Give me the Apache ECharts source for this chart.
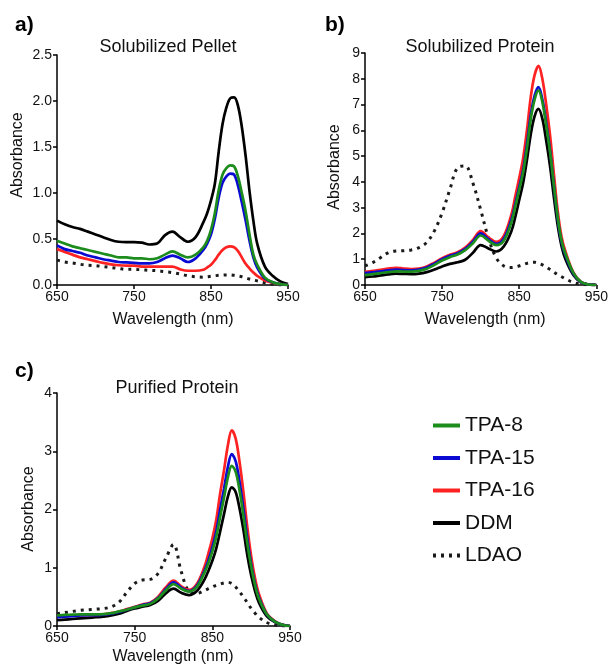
<!DOCTYPE html>
<html>
<head>
<meta charset="utf-8">
<script src="https://cdn.jsdelivr.net/npm/echarts@6/dist/echarts.min.js"></script>
<style>
html,body{margin:0;padding:0;background:#fff;}
#chart{width:611px;height:666px;}
</style>
</head>
<body>
<div id="chart"></div>
<script>
// ---- DATA ----
const wavelengths = [650,660,670,680,690,700,710,720,730,740,750,760,770,780,790,800,810,820,830,840,845,850,855,860,865,870,875,880,885,890,895,900,905,910,920,930,940,950];
const seriesNames = ['TPA-8','TPA-15','TPA-16','DDM','LDAO'];

// a) Solubilized Pellet
const pelletTPA8  = [0.48,0.45,0.42,0.40,0.38,0.36,0.34,0.32,0.30,0.30,0.29,0.29,0.28,0.29,0.33,0.365,0.33,0.30,0.33,0.41,0.48,0.60,0.78,1.03,1.20,1.27,1.30,1.29,1.18,1.00,0.80,0.55,0.33,0.22,0.08,0.03,0.01,0];
const pelletTPA15 = [0.43,0.39,0.37,0.35,0.32,0.30,0.28,0.265,0.25,0.245,0.24,0.235,0.235,0.25,0.29,0.32,0.29,0.25,0.29,0.38,0.45,0.55,0.72,0.95,1.11,1.18,1.21,1.20,1.08,0.90,0.70,0.48,0.30,0.19,0.07,0.03,0.01,0];
const pelletTPA16 = [0.39,0.36,0.33,0.30,0.28,0.26,0.24,0.225,0.215,0.21,0.21,0.20,0.20,0.20,0.20,0.20,0.17,0.155,0.155,0.165,0.19,0.22,0.27,0.33,0.38,0.41,0.42,0.41,0.37,0.30,0.23,0.18,0.135,0.10,0.05,0.025,0.01,0];
const pelletDDM   = [0.70,0.66,0.63,0.61,0.58,0.55,0.52,0.49,0.47,0.465,0.465,0.46,0.44,0.45,0.54,0.58,0.52,0.47,0.52,0.68,0.78,0.92,1.10,1.45,1.75,1.93,2.03,2.04,1.95,1.72,1.40,1.02,0.70,0.45,0.20,0.10,0.04,0.01];
const pelletLDAO  = [0.27,0.25,0.24,0.225,0.215,0.21,0.20,0.19,0.18,0.17,0.17,0.165,0.16,0.155,0.145,0.135,0.12,0.10,0.09,0.085,0.088,0.095,0.10,0.105,0.108,0.11,0.11,0.105,0.098,0.09,0.078,0.065,0.055,0.045,0.025,0.01,0,0];

// b) Solubilized Protein
const solTPA8  = [0.38,0.42,0.46,0.50,0.53,0.52,0.52,0.55,0.63,0.78,0.95,1.08,1.18,1.35,1.62,1.92,1.72,1.55,1.72,2.45,3.05,3.70,4.35,5.30,6.45,7.20,7.55,7.10,6.20,5.15,3.85,2.60,1.70,1.20,0.48,0.12,0.02,0];
const solTPA15 = [0.46,0.49,0.53,0.57,0.60,0.58,0.57,0.60,0.68,0.83,1.00,1.13,1.23,1.40,1.68,2.00,1.78,1.60,1.80,2.55,3.15,3.80,4.45,5.45,6.60,7.35,7.68,7.20,6.30,5.20,3.85,2.55,1.65,1.15,0.45,0.11,0.02,0];
const solTPA16 = [0.51,0.55,0.59,0.64,0.67,0.64,0.62,0.64,0.72,0.87,1.04,1.17,1.27,1.45,1.75,2.09,1.85,1.67,1.90,2.75,3.45,4.15,4.90,6.00,7.30,8.15,8.50,8.00,7.00,5.80,4.30,2.85,1.85,1.30,0.50,0.12,0.02,0];
const solDDM   = [0.30,0.33,0.37,0.41,0.44,0.43,0.42,0.44,0.50,0.60,0.72,0.82,0.88,0.98,1.25,1.55,1.42,1.30,1.50,2.10,2.65,3.30,3.95,4.85,5.85,6.55,6.83,6.45,5.60,4.60,3.40,2.30,1.50,1.00,0.40,0.10,0.02,0];
const solLDAO  = [0.74,0.87,1.06,1.25,1.32,1.33,1.36,1.45,1.65,2.10,2.80,3.70,4.55,4.62,3.95,2.92,1.83,1.06,0.74,0.68,0.70,0.74,0.79,0.84,0.87,0.88,0.84,0.78,0.70,0.60,0.50,0.40,0.32,0.24,0.10,0.03,0.01,0];

// c) Purified Protein
const purTPA8  = [0.18,0.19,0.195,0.20,0.20,0.20,0.205,0.22,0.25,0.28,0.32,0.35,0.38,0.47,0.61,0.72,0.64,0.59,0.67,0.92,1.08,1.28,1.53,1.87,2.20,2.55,2.75,2.65,2.33,1.90,1.42,1.02,0.70,0.47,0.20,0.08,0.02,0];
const purTPA15 = [0.15,0.16,0.17,0.18,0.185,0.185,0.195,0.21,0.24,0.28,0.32,0.36,0.39,0.48,0.63,0.75,0.66,0.60,0.69,0.95,1.13,1.35,1.62,2.00,2.35,2.73,2.95,2.83,2.48,2.02,1.50,1.06,0.72,0.49,0.20,0.08,0.02,0];
const purTPA16 = [0.16,0.17,0.18,0.185,0.19,0.19,0.20,0.22,0.25,0.29,0.33,0.37,0.40,0.50,0.66,0.78,0.68,0.62,0.72,1.02,1.25,1.50,1.82,2.27,2.67,3.10,3.36,3.22,2.82,2.30,1.70,1.20,0.82,0.55,0.22,0.09,0.02,0];
const purDDM   = [0.10,0.11,0.12,0.13,0.14,0.15,0.16,0.18,0.21,0.26,0.30,0.33,0.36,0.43,0.56,0.64,0.57,0.53,0.60,0.80,0.95,1.12,1.33,1.62,1.92,2.22,2.38,2.30,2.02,1.65,1.22,0.87,0.60,0.40,0.17,0.07,0.02,0];
const purLDAO  = [0.21,0.23,0.25,0.27,0.28,0.29,0.30,0.33,0.41,0.58,0.73,0.79,0.80,0.90,1.16,1.40,0.93,0.59,0.56,0.61,0.64,0.67,0.70,0.72,0.74,0.75,0.73,0.67,0.59,0.50,0.40,0.30,0.22,0.15,0.06,0.02,0,0];

const xTicks = [650, 750, 850, 950];
const panelTitles = ['Solubilized Pellet', 'Solubilized Protein', 'Purified Protein'];
const panelLetters = ['a)', 'b)', 'c)'];
const yMax = [2.5, 9, 4];
const yStep = [0.5, 1, 1];

// ---- CHART ----
const FONT = "'Liberation Sans', Arial, Helvetica, sans-serif";
const colors = {'TPA-8':'#1c8c1c','TPA-15':'#0a0ad2','TPA-16':'#ff2222','DDM':'#000000','LDAO':'#1a1a1a'};
const panels = [
  {TPA8: pelletTPA8, TPA15: pelletTPA15, TPA16: pelletTPA16, DDM: pelletDDM, LDAO: pelletLDAO},
  {TPA8: solTPA8, TPA15: solTPA15, TPA16: solTPA16, DDM: solDDM, LDAO: solLDAO},
  {TPA8: purTPA8, TPA15: purTPA15, TPA16: purTPA16, DDM: purDDM, LDAO: purLDAO}
];
const grids = [
  {left: 57, top: 55, width: 231, height: 230},
  {left: 365, top: 53, width: 232, height: 232},
  {left: 57, top: 393, width: 233, height: 233}
];

function pairs(arr){ return wavelengths.map((w,i)=>[w, arr[i]]); }

const xAxes = [], yAxes = [], series = [];
grids.forEach((g,i)=>{
  xAxes.push({
    type:'value', gridIndex:i, min:xTicks[0], max:xTicks[xTicks.length-1], interval:100,
    axisLine:{show:true, onZero:false, lineStyle:{color:'#000', width:1.5}},
    axisTick:{show:true, length:4, lineStyle:{color:'#000', width:1.5}},
    axisLabel:{color:'#111', fontSize:14, fontFamily:FONT, margin:5},
    splitLine:{show:false}
  });
  yAxes.push({
    type:'value', gridIndex:i, min:0, max:yMax[i], interval:yStep[i],
    axisLine:{show:true, onZero:false, lineStyle:{color:'#000', width:1.5}},
    axisTick:{show:true, length:4, lineStyle:{color:'#000', width:1.5}},
    axisLabel:{color:'#111', fontSize:14, fontFamily:FONT, margin:5,
      formatter: v => i===0 ? v.toFixed(1) : String(v)},
    splitLine:{show:false}
  });
  const p = panels[i];
  const order = [['LDAO',p.LDAO],['DDM',p.DDM],['TPA-16',p.TPA16],['TPA-15',p.TPA15],['TPA-8',p.TPA8]];
  order.forEach(([name,arr])=>{
    const dotted = name==='LDAO';
    series.push({
      type:'line', name, xAxisIndex:i, yAxisIndex:i, data:pairs(arr),
      smooth:0.35, symbol:'none', silent:true,
      lineStyle: dotted ? {color:colors[name], width:3, type:[3,5], cap:'butt'}
                        : {color:colors[name], width:2.7},
      itemStyle:{color:colors[name]},
      z: dotted ? 1 : 2
    });
  });
});

const graphic = [];
const titlePos = [[168,47],[480,47],[177,388]];
const letterPos = [[15,25],[325,25],[15,371]];
const xNamePos = [[173,320],[485,320],[173,657]];
const yNamePos = [[18,155],[335,167],[29,509]];
for (let i=0;i<3;i++){
  graphic.push({type:'text', x:titlePos[i][0], y:titlePos[i][1],
    style:{text:panelTitles[i], font:`18px ${FONT}`, fill:'#111', align:'center', verticalAlign:'middle'}});
  graphic.push({type:'text', x:letterPos[i][0], y:letterPos[i][1],
    style:{text:panelLetters[i], font:`bold 21px ${FONT}`, fill:'#000', align:'left', verticalAlign:'middle'}});
  graphic.push({type:'text', x:xNamePos[i][0], y:xNamePos[i][1],
    style:{text:'Wavelength (nm)', font:`16px ${FONT}`, fill:'#111', align:'center', verticalAlign:'middle'}});
  graphic.push({type:'text', x:yNamePos[i][0], y:yNamePos[i][1], rotation:Math.PI/2,
    style:{text:'Absorbance', font:`16px ${FONT}`, fill:'#111', align:'center', verticalAlign:'middle'}});
}

const solidIcon = 'rect';
const dotIcon = 'path://M0,0h3v4h-3zM8,0h3v4h-3zM16,0h3v4h-3zM24,0h3v4h-3z';

const chart = echarts.init(document.getElementById('chart'), null, {renderer:'canvas'});
chart.setOption({
  animation:false,
  backgroundColor:'#fff',
  grid: grids,
  xAxis: xAxes,
  yAxis: yAxes,
  series,
  graphic,
  legend:{
    data: seriesNames.map(n => ({name:n, icon: n==='LDAO' ? dotIcon : solidIcon})),
    orient:'vertical', left:428, top:410,
    padding:5,
    itemWidth:27, itemHeight:4, itemGap:11.5,
    selectedMode:false,
    textStyle:{fontSize:21, fontFamily:FONT, color:'#111'}
  }
});
</script>
</body>
</html>
